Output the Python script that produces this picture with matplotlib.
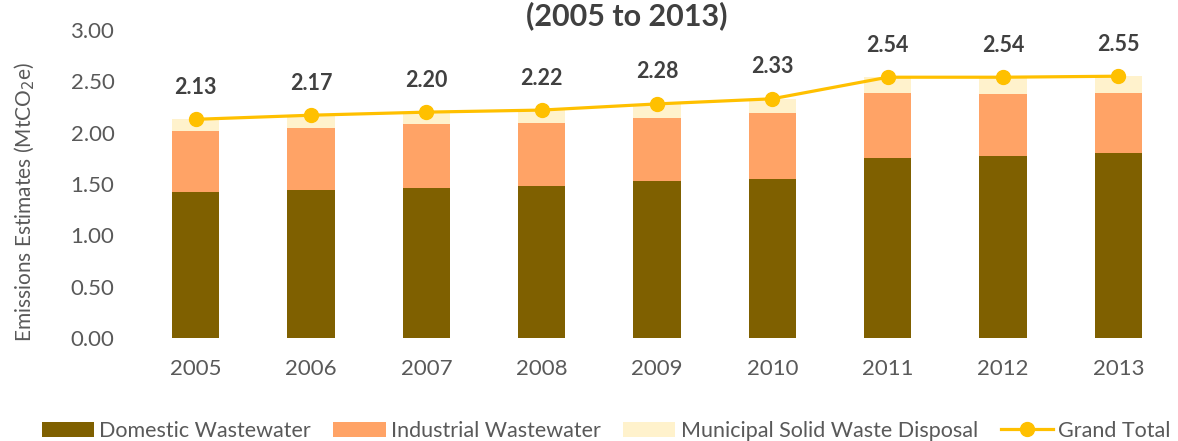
import numpy as np
import matplotlib
import matplotlib.pyplot as plt

matplotlib.use('Agg')

# Waste sector emissions by year, MtCO2e
years = ['2005', '2006', '2007', '2008', '2009', '2010', '2011', '2012', '2013']
domestic = [1.42, 1.44, 1.46, 1.48, 1.53, 1.55, 1.75, 1.77, 1.80]
industrial = [0.60, 0.61, 0.62, 0.61, 0.61, 0.64, 0.64, 0.61, 0.59]
municipal = [0.11, 0.12, 0.12, 0.13, 0.14, 0.14, 0.15, 0.16, 0.16]
grand_total = [2.13, 2.17, 2.20, 2.22, 2.28, 2.33, 2.54, 2.54, 2.55]

# Colours
C_DOM = '#7F6000'
C_IND = '#FFA366'
C_MUN = '#FFF2CC'
C_TOT = '#FFC000'
C_TXT = '#595959'

plt.rcParams['font.family'] = ['Lato', 'DejaVu Sans']

fig = plt.figure(figsize=(11.78, 4.41), dpi=100)
ax = fig.add_axes([138 / 1178, 103 / 441, 1038 / 1178, 308 / 441])

x = np.arange(len(years))
dom = np.array(domestic)
ind = np.array(industrial)
mun = np.array(municipal)
w = 0.41

b1 = ax.bar(x, dom, w, color=C_DOM, label='Domestic Wastewater')
b2 = ax.bar(x, ind, w, bottom=dom, color=C_IND, label='Industrial Wastewater')
b3 = ax.bar(x, mun, w, bottom=dom + ind, color=C_MUN,
            label='Municipal Solid Waste Disposal')
ln, = ax.plot(x, grand_total, color=C_TOT, lw=2.3, marker='o', ms=10,
              label='Grand Total')

# value labels above the total line
for xi, v in zip(x, grand_total):
    ax.annotate(f'{v:.2f}', (xi, v), xytext=(0, 23), textcoords='offset points',
                ha='center', va='center', fontsize=15.5, fontweight='bold',
                color='#404040')

ax.set_xlim(-0.5, len(years) - 0.5)
ax.set_ylim(0, 3)
ax.set_yticks(np.arange(0, 3.01, 0.5))
ax.set_yticklabels([f'{t:.2f}' for t in np.arange(0, 3.01, 0.5)])
ax.set_xticks(x)
ax.set_xticklabels(years)
ax.tick_params(axis='both', length=0, labelsize=16, colors=C_TXT)
ax.tick_params(axis='y', pad=17)
ax.tick_params(axis='x', pad=15)
for s in ax.spines.values():
    s.set_visible(False)

fig.text(25 / 1178, 1 - 202 / 441, 'Emissions Estimates (MtCO$_2$e)',
         rotation=90, ha='center', va='center', fontsize=15, color=C_TXT)

fig.text(627 / 1178, 1 - 25 / 441, '(2005 to 2013)', ha='center',
         va='baseline', fontsize=22, fontweight='bold', color='#404040')

fig.legend(handles=[b1, b2, b3, ln], loc='center',
           bbox_to_anchor=(606 / 1178, 10 / 441), ncol=4,
           frameon=False, fontsize=15.5, labelcolor=C_TXT, handlelength=2.42,
           handleheight=0.7, handletextpad=0.25, columnspacing=1.05)

fig.savefig('out.png', dpi=100)
